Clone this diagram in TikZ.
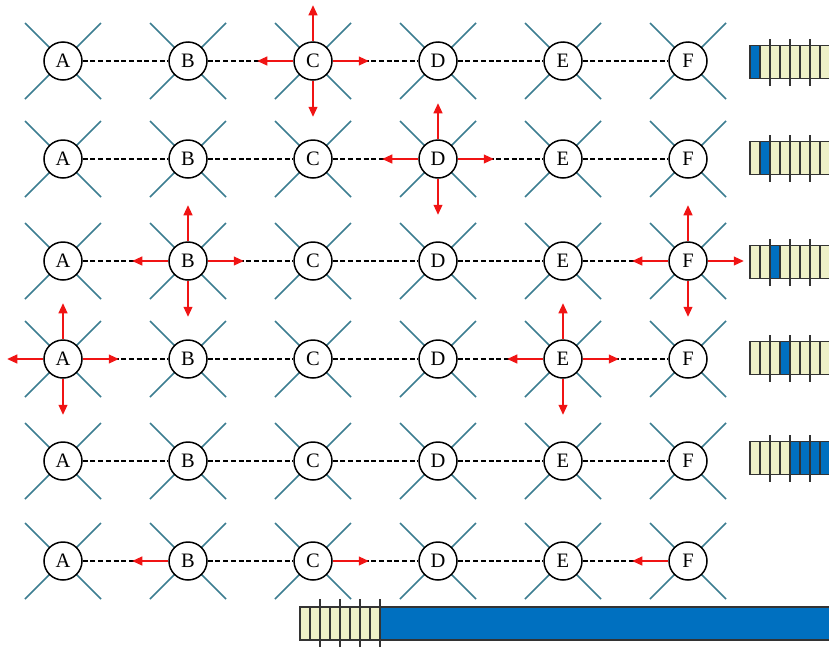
\documentclass[tikz,border=0pt]{standalone}
\usepackage{fontspec}
\setmainfont{Liberation Serif}
\usetikzlibrary{arrows.meta}
\definecolor{tealline}{RGB}{60,125,145}
\definecolor{cellblue}{RGB}{0,112,192}
\definecolor{cream}{RGB}{238,240,200}
\definecolor{arrowred}{RGB}{240,20,20}
\newcommand\sigburst[1]{%
  \draw[signal] (#1.north) -- ++(0,-36);
  \draw[signal] (#1.south) -- ++(0,36);
  \draw[signal] (#1.west) -- ++(-36,0);
  \draw[signal] (#1.east) -- ++(36,0);}
\begin{document}
\begin{tikzpicture}[x=1pt,y=-1pt,
 station/.style={circle,draw=black,line width=1.5pt,fill=white,minimum size=38pt,inner sep=0pt,font=\fontsize{20.5}{20.5}\selectfont},
 antenna/.style={draw=tealline,line width=1.6pt},
 link/.style={draw=black,line width=1.2pt,dash pattern=on 5pt off 2.7pt},
 signal/.style={draw=arrowred,line width=1.1pt,-{Triangle[length=10pt,width=9pt,fill=arrowred]}},
 cellbox/.style={draw=black!80,line width=1.3pt},
 tickline/.style={draw=black!80,line width=1.3pt}]
\useasboundingbox (0,0) rectangle (829,646);
\clip (0,0) rectangle (829,646);
% stations
\foreach \r/\y in {1/61,2/159,3/261,4/359,5/461,6/561}{
  \foreach \c/\x in {A/63,B/188,C/313,D/438,E/563,F/688}{
    \draw[antenna] (\x-38,\y-38) -- (\x+38,\y+38);
    \draw[antenna] (\x-38,\y+38) -- (\x+38,\y-38);
    \node[station] (\r-\c) at (\x,\y) {\c};
  }
  \draw[link] (\r-A) -- (\r-B);
  \draw[link] (\r-B) -- (\r-C);
  \draw[link] (\r-C) -- (\r-D);
  \draw[link] (\r-D) -- (\r-E);
  \draw[link] (\r-E) -- (\r-F);
}
% signals
\sigburst{1-C}
\sigburst{2-D}
\sigburst{3-B}
\sigburst{3-F}
\sigburst{4-A}
\sigburst{4-E}
\draw[signal] (6-B.west) -- ++(-36,0);
\draw[signal] (6-C.east) -- ++(36,0);
\draw[signal] (6-F.west) -- ++(-36,0);
% slot bars
\foreach \y/\b/\e in {62/0/0,158/1/1,262/2/2,358/3/3,458/4/7}{
  \foreach \i in {0,...,7}{
    \pgfmathsetmacro\isblue{(\i>=\b && \i<=\e) ? 1 : 0}
    \ifdim\isblue pt>0.5pt
      \path[cellbox,fill=cellblue] (750+10*\i,\y-16.5) rectangle ++(10,33);
    \else
      \path[cellbox,fill=cream] (750+10*\i,\y-16.5) rectangle ++(10,33);
    \fi
  }
  \foreach \t in {770,790,810}{
    \draw[tickline] (\t,\y-23) -- (\t,\y+24);
  }
}
% bottom bar
\path[cellbox,fill=cellblue] (380,607) rectangle (840,640);
\foreach \i in {0,...,7}{
  \path[cellbox,fill=cream] (300+10*\i,607) rectangle ++(10,33);
}
\foreach \t in {320,340,360,380}{
  \draw[tickline] (\t,599) -- (\t,650);
}
\end{tikzpicture}
\end{document}
